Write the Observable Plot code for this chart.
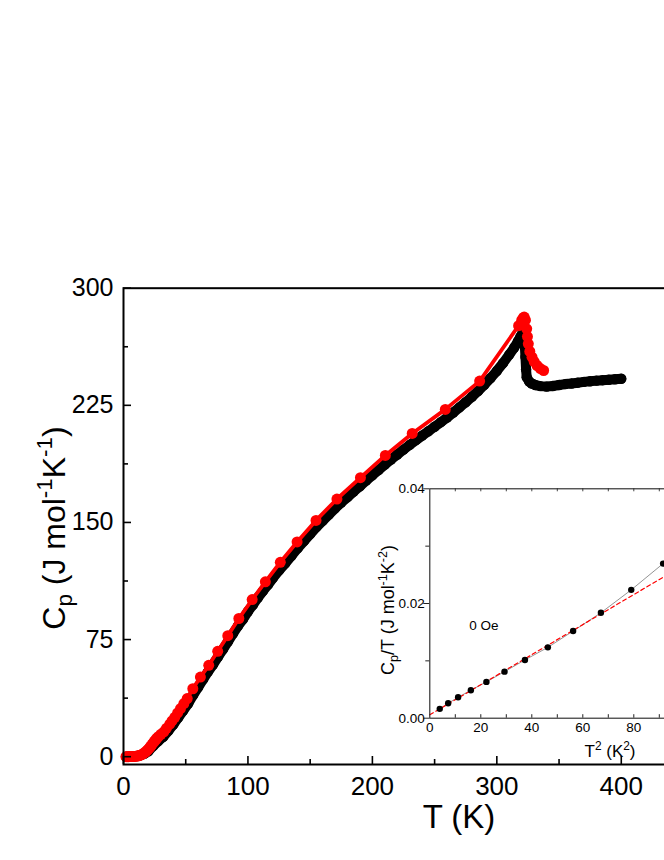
<!DOCTYPE html>
<html><head><meta charset="utf-8">
<script src="https://cdn.jsdelivr.net/npm/d3@7"></script>
<script src="https://cdn.jsdelivr.net/npm/@observablehq/plot@0.6"></script>
<style>
html,body{margin:0;padding:0;overflow:hidden;background:#fff;}
#wrap{position:relative;width:664px;height:860px;overflow:hidden;background:#fff;}
#wrap svg{position:absolute;left:0;top:0;}
</style></head><body><div id="wrap"></div>
<script>
// ---- main data: red series (circles + line)
const redT = [2,3,4,5,6,7,8,9,10,11,12,13,14,15,16,17,18,19,20,21,22,23,24,25,26,27,28,30,32.4,34.5,37.2,39,41.2,43.5,45.8,48.5,51.2,55.7,61.8,68.5,75.7,83.8,92.7,103.4,114,126,139.5,154.7,171.5,190.4,210.4,232,258.6,286.2,317.5,320,321.2,322,323,324,324.6,325.3,326.5,328.3,330,332.3,335,337.6];
const redCp = [0.0,0.0,0.0,0.1,0.1,0.1,0.2,0.2,0.3,0.4,0.6,0.8,1.1,1.5,2.0,2.6,3.3,4.0,4.8,5.8,6.8,7.9,9.0,10.0,11.0,11.9,12.8,14.3,15.9,18.2,20.8,22.9,25.2,28.0,30.8,34.0,37.2,43.5,51.0,58.5,67.5,77.5,88.5,100.6,112.0,124.5,137.5,151.3,165.0,178.7,192.9,207.0,222.4,240.5,276.0,279.5,281.0,281.5,279.5,274.0,269.0,264.4,259.5,255.8,253.0,250.5,248.5,247.3];
// ---- main data: black series (dense circles)
const blackT = [2,5,8,11,14,17,20,24,28,32,36,40,44,48,52,56,60,64,68,72,76,80,84,88,92,96,100,104,108,112,116,120,125,130,135,140,145,150,155,160,165,170,175,180,185,190,195,200,205,210,215,220,225,230,235,240,245,250,255,260,265,270,275,280,285,290,295,300,305,310,314,317,319,320.5,321.5,322.3,323,323.5,324,326,328,331,335,340,345,350,355,360,365,370,375,380,385,390,395,400];
const blackCp = [0.0,0.1,0.2,0.4,1.0,2.0,3.5,7.0,10.0,12.8,16.5,20.5,25.0,29.5,34.0,39.5,44.5,49.5,54.5,59.0,64.0,68.8,73.7,78.8,83.7,88.0,93.0,97.2,101.8,106.0,110.0,114.3,119.3,123.8,128.6,133.5,138.0,142.5,147.0,151.0,155.0,159.0,162.7,166.2,169.8,173.2,176.8,180.2,183.6,187.0,190.3,193.5,196.6,199.7,202.7,205.6,208.4,211.3,214.2,217.2,220.4,223.7,227.0,230.5,234.2,238.2,242.5,247.0,252.0,257.5,262.0,266.0,269.0,271.0,272.0,266.0,256.0,248.0,243.0,240.2,239.0,238.0,237.3,237.0,237.4,238.0,238.6,239.0,239.5,240.0,240.4,240.8,241.1,241.4,241.7,242.0];
// ---- main axes
const xTickLabels = [0,100,200,300,400];
const xMinorTicks = [50,150,250,350];
const yTickLabels = [0,75,150,225,300];
const yMinorTicks = [37.5,112.5,187.5,262.5];
// ---- inset data
const insetT2 = [3.9,7.2,11.1,16.1,22.2,29.3,37.3,46.3,56.2,67.1,79.0,91.5];
const insetCpT = [0.00163,0.0026,0.00365,0.00487,0.00633,0.00812,0.01016,0.01235,0.0152,0.01838,0.02238,0.02696];
const fitT2 = [0,100];
const fitCpT = [0.0006,0.0268];
const insetXTickLabels = [0,20,40,60,80];
const insetXMinor = [10,20,30,40,50,60,70,80,90];
const insetYTickLabels = [0,0.02,0.04];
const insetYMinor = [0.01,0.03];

const W = 700, H = 860;
const font = "Liberation Sans, Arial, Helvetica, sans-serif";
const red = "#ff0000";

// main frame geometry
const mL = 123, mR = W - 683, mT = 287.7, mB = H - 764;
const fW = W - mL - mR, fH = H - mT - mB;

const redData = redT.map((t,i)=>({t, c: redCp[i]}));
const blackData = blackT.map((t,i)=>({t, c: blackCp[i]}));

const main = Plot.plot({
  width: W, height: H,
  marginLeft: mL, marginRight: mR, marginTop: mT, marginBottom: mB,
  x: {domain: [0,450]},
  y: {domain: [-5,300]},
  style: {fontFamily: font, background: "transparent", maxWidth: "none", overflow: "visible", color: "#000"},
  marks: [
    Plot.line(blackData, {x: "t", y: "c", stroke: "#000", strokeWidth: 10, strokeLinecap: "round", strokeLinejoin: "round"}),
    Plot.dot(blackData, {x: "t", y: "c", r: 5.2, fill: "#000"}),
    Plot.line(redData, {x: "t", y: "c", stroke: red, strokeWidth: 3.8}),
    Plot.dot(redData, {x: "t", y: "c", r: 5.5, fill: red}),
    Plot.tickY(yTickLabels, {y: d=>d, insetRight: fW - 8, stroke: "#000", strokeWidth: 1.6}),
    Plot.tickY(yMinorTicks, {y: d=>d, insetRight: fW - 5, stroke: "#000", strokeWidth: 1.6}),
    Plot.tickX(xTickLabels, {x: d=>d, insetTop: fH - 8, stroke: "#000", strokeWidth: 1.6}),
    Plot.tickX(xMinorTicks, {x: d=>d, insetTop: fH - 5, stroke: "#000", strokeWidth: 1.6}),
    Plot.axisY({ticks: yTickLabels, tickSize: 0, tickPadding: 10, fontSize: 25, label: null, tickFormat: d=>String(d)}),
    Plot.axisX({ticks: xTickLabels, tickSize: 0, tickPadding: 12, fontSize: 26, label: null, tickFormat: d=>String(d)}),
    Plot.frame({stroke: "#000", strokeWidth: 2})
  ]
});

// inset geometry
const iL = 429.3, iT = 488.3, iB = H - 717.7, iR = W - 684.3;
const iFW = W - iL - iR, iFH = H - iT - iB;
const insetData = insetT2.map((x,i)=>({x, y: insetCpT[i]}));
const fitData = fitT2.map((x,i)=>({x, y: fitCpT[i]}));

const inset = Plot.plot({
  width: W, height: H,
  marginLeft: iL, marginRight: iR, marginTop: iT, marginBottom: iB,
  x: {domain: [0,100]},
  y: {domain: [0,0.04]},
  style: {fontFamily: font, background: "transparent", maxWidth: "none", overflow: "visible", color: "#000"},
  marks: [
    Plot.line(insetData, {x: "x", y: "y", stroke: "#888", strokeWidth: 0.9}),
    Plot.line(fitData, {x: "x", y: "y", stroke: red, strokeWidth: 1.2, strokeDasharray: "4,3"}),
    Plot.dot(insetData, {x: "x", y: "y", r: 3.2, fill: "#000"}),
    Plot.tickY(insetYTickLabels, {y: d=>d, insetLeft: -6, insetRight: iFW, stroke: "#222", strokeWidth: 1}),
    Plot.tickY(insetYMinor, {y: d=>d, insetLeft: -4, insetRight: iFW, stroke: "#222", strokeWidth: 1}),
    Plot.tickX(insetXMinor, {x: d=>d, insetTop: iFH - 3.5, stroke: "#222", strokeWidth: 1}),
    Plot.tickX(insetXMinor, {x: d=>d, insetBottom: iFH - 3, stroke: "#444", strokeWidth: 1}),
    Plot.axisY({ticks: insetYTickLabels, tickSize: 0, tickPadding: 5, fontSize: 13.5, label: null, tickFormat: d3.format(".2f")}),
    Plot.axisX({ticks: insetXTickLabels, tickSize: 0, tickPadding: 4, fontSize: 13.5, label: null, tickFormat: d=>String(d)}),
    Plot.frame({stroke: "#222", strokeWidth: 1.1})
  ]
});

const wrap = document.getElementById("wrap");
wrap.appendChild(main);
wrap.appendChild(inset);

function addText(svg, x, y, size, parts, rotate) {
  const t = d3.select(svg).append("text")
    .attr("transform", `translate(${x},${y})` + (rotate ? " rotate(-90)" : ""))
    .attr("text-anchor", "middle")
    .attr("font-family", font)
    .attr("font-size", size)
    .attr("fill", "#000");
  let cur = 0;
  for (const [s, kind] of parts) {
    const ts = t.append("tspan").text(s);
    let shift = 0, fs = size;
    if (kind === "sub") { shift = size * 0.22; fs = size * 0.7; }
    if (kind === "sup") { shift = -size * 0.4; fs = size * 0.7; }
    ts.attr("font-size", fs).attr("dy", shift - cur);
    cur = shift;
  }
}

// main axis titles
addText(main, 459, 828, 33, [["T (K)"]], false);
addText(main, 65, 528, 32, [["C"],["p","sub"],[" (J mol"],["-1","sup"],["K"],["-1","sup"],[")"]], true);
// inset titles
addText(inset, 610, 757, 17, [["T"],["2","sup"],[" (K"],["2","sup"],[")"]], false);
addText(inset, 394, 610, 18, [["C"],["p","sub"],["/T (J mol"],["-1","sup"],["K"],["-2","sup"],[")"]], true);
d3.select(inset).append("text").attr("x", 484).attr("y", 630)
  .attr("font-family", font).attr("font-size", 13.5).attr("fill", "#000").text("0 Oe");
</script></body></html>
